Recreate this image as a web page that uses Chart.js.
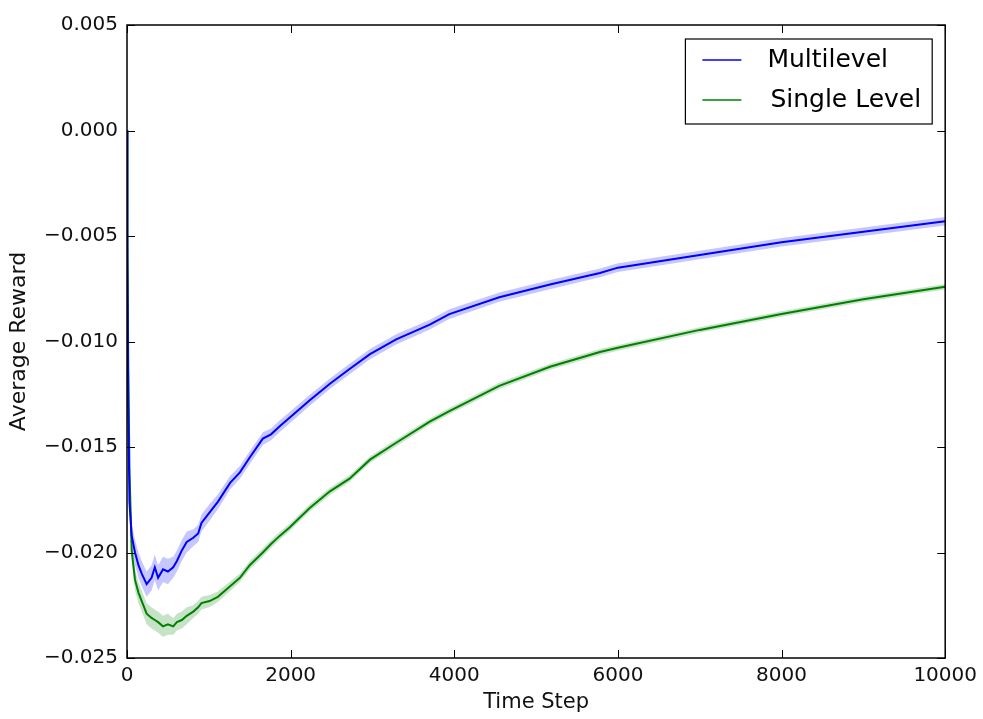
<!DOCTYPE html>
<html lang="en">
<head>
    <meta charset="UTF-8">
    <title>Average Reward vs Time Step</title>
    <script src="https://cdn.jsdelivr.net/npm/chart.js"></script>
    <style>
        html, body { margin: 0; padding: 0; background: #fff; }
        canvas { display: block; }
    </style>
</head>
<body>
    <canvas id="chart" width="983" height="719"></canvas>

    <script>
    // time steps (shared by both runs)
    const steps = [0, 5, 15, 30, 57, 98, 140, 180, 240, 300, 340, 380, 440, 500, 565, 610, 670, 730, 810, 870,
        910, 1010, 1110, 1260, 1380, 1500, 1660, 1760, 1870, 1990, 2230, 2480, 2720, 2970, 3290, 3700, 3940,
        4550, 5170, 5780, 6000, 7000, 8000, 9000, 10000];

    // mean average reward
    const multilevel = [0, -0.0060, -0.0130, -0.0176, -0.0192, -0.0200, -0.0206, -0.0210, -0.0215, -0.0212,
        -0.0207, -0.0212, -0.0208, -0.0209, -0.0207, -0.0204, -0.0199, -0.0195, -0.0193, -0.0191,
        -0.0186, -0.0181, -0.0176, -0.0167, -0.0162, -0.0155, -0.0146, -0.0144, -0.0140, -0.0136,
        -0.0128, -0.0120, -0.0113, -0.0106, -0.0099, -0.0092, -0.0087, -0.0079, -0.0073, -0.00675,
        -0.0065, -0.0059, -0.0053, -0.0048, -0.0043];
    const singleLevel = [0, -0.0050, -0.0110, -0.0160, -0.0199, -0.0213, -0.0219, -0.0223, -0.0229, -0.0231,
        -0.0232, -0.0233, -0.0235, -0.0234, -0.0235, -0.0233, -0.0232, -0.0230, -0.0228, -0.0226,
        -0.0224, -0.0223, -0.0221, -0.0216, -0.0212, -0.0206, -0.0200, -0.0196, -0.0192, -0.0188,
        -0.0179, -0.0171, -0.0165, -0.0156, -0.0148, -0.0138, -0.0133, -0.0121, -0.0112, -0.0105,
        -0.0103, -0.00945, -0.0087, -0.0080, -0.0074];

    // half width of the shaded spread
    const multilevelErr = [0, 0.0004, 0.0005, 0.0006, 0.0006, 0.0006, 0.0006, 0.0006, 0.0006, 0.0006,
        0.0006, 0.0006, 0.0006, 0.0006, 0.0005, 0.0005, 0.0005, 0.0005, 0.0004, 0.0004,
        0.0004, 0.0004, 0.00035, 0.00032, 0.0003, 0.0003, 0.0003, 0.00028, 0.00028, 0.00027,
        0.00026, 0.00025, 0.00025, 0.00024, 0.00024, 0.00023, 0.00023, 0.00022, 0.00022, 0.00021,
        0.00021, 0.0002, 0.0002, 0.0002, 0.0002];
    const singleErr = [0, 0.0003, 0.0004, 0.0005, 0.0005, 0.0005, 0.0005, 0.0005, 0.0005, 0.0005,
        0.0005, 0.0005, 0.0005, 0.0005, 0.0004, 0.0004, 0.0004, 0.0004, 0.0003, 0.0003,
        0.0003, 0.00028, 0.00025, 0.00022, 0.0002, 0.0002, 0.0002, 0.00019, 0.00018, 0.00018,
        0.00017, 0.00017, 0.00016, 0.00016, 0.00016, 0.00015, 0.00015, 0.00015, 0.00014, 0.00014,
        0.00014, 0.00013, 0.00013, 0.00013, 0.00013];

    const xTicks = [0, 2000, 4000, 6000, 8000, 10000];
    const yTicks = [-0.025, -0.020, -0.015, -0.010, -0.005, 0.000, 0.005];

    const FONT = "'DejaVu Sans', sans-serif";

    const pts = ys => steps.map((s, i) => ({ x: s, y: ys[i] }));
    const band = (ys, err, sign) => steps.map((s, i) => ({ x: s, y: ys[i] + sign * err[i] }));

    // matplotlib-style frame, inward ticks on all four sides, and a boxed legend
    const framePlugin = {
        id: 'frame',
        afterDatasetsDraw(chart) {
            const { ctx, chartArea: a, scales: { x, y } } = chart;
            ctx.save();
            ctx.strokeStyle = '#000';
            ctx.lineWidth = 1;
            const tl = 8;
            xTicks.forEach(v => {
                const px = Math.round(x.getPixelForValue(v)) + 0.5;
                ctx.beginPath();
                ctx.moveTo(px, a.bottom); ctx.lineTo(px, a.bottom - tl);
                ctx.moveTo(px, a.top); ctx.lineTo(px, a.top + tl);
                ctx.stroke();
            });
            yTicks.forEach(v => {
                const py = Math.round(y.getPixelForValue(v)) + 0.5;
                ctx.beginPath();
                ctx.moveTo(a.left, py); ctx.lineTo(a.left + tl, py);
                ctx.moveTo(a.right, py); ctx.lineTo(a.right - tl, py);
                ctx.stroke();
            });
            ctx.lineWidth = 1.5;
            ctx.strokeRect(a.left, a.top, a.right - a.left, a.bottom - a.top);

            // legend
            const items = chart.data.datasets.slice(0, 2);
            ctx.font = '25px ' + FONT;
            const textW = Math.max(...items.map(d => ctx.measureText(d.label).width));
            const boxW = 17 + 39 + 26 + textW + 14;
            const boxH = 85;
            const bx = a.right - 13 - boxW;
            const by = a.top + 14;
            ctx.fillStyle = '#fff';
            ctx.fillRect(bx, by, boxW, boxH);
            ctx.lineWidth = 1.2;
            ctx.strokeStyle = '#000';
            ctx.strokeRect(bx, by, boxW, boxH);
            ctx.textBaseline = 'middle';
            ctx.textAlign = 'left';
            items.forEach((d, i) => {
                const cy = by + 21 + i * 40;
                ctx.strokeStyle = d.borderColor;
                ctx.lineWidth = 1.5;
                ctx.beginPath();
                ctx.moveTo(bx + 17, cy); ctx.lineTo(bx + 56, cy);
                ctx.stroke();
                ctx.fillStyle = '#000';
                ctx.fillText(d.label, bx + 82 + i * 3, cy);
            });
            ctx.restore();
        }
    };

    const fmtY = v => {
        if (Math.abs(v) < 1e-9) return '0.000';
        const s = Math.abs(v).toFixed(3);
        return v < 0 ? '\u2212' + s : s;
    };

    new Chart(document.getElementById('chart'), {
        type: 'line',
        data: {
            datasets: [
                { label: 'Multilevel', data: pts(multilevel), borderColor: '#0000ff', borderWidth: 2, pointRadius: 0, fill: false },
                { label: 'Single Level', data: pts(singleLevel), borderColor: '#008000', borderWidth: 2, pointRadius: 0, fill: false },
                { label: 'ml upper', data: band(multilevel, multilevelErr, 1), borderWidth: 0, pointRadius: 0, fill: false },
                { label: 'ml lower', data: band(multilevel, multilevelErr, -1), borderWidth: 0, pointRadius: 0, fill: '-1', backgroundColor: 'rgba(0,0,255,0.22)' },
                { label: 'sl upper', data: band(singleLevel, singleErr, 1), borderWidth: 0, pointRadius: 0, fill: false },
                { label: 'sl lower', data: band(singleLevel, singleErr, -1), borderWidth: 0, pointRadius: 0, fill: '-1', backgroundColor: 'rgba(0,128,0,0.22)' }
            ]
        },
        options: {
            responsive: false,
            animation: false,
            layout: { padding: { left: 0, right: 37, top: 25, bottom: 0 } },
            plugins: { legend: { display: false }, tooltip: { enabled: false } },
            scales: {
                x: {
                    type: 'linear', min: 0, max: 10000,
                    grid: { display: false, drawTicks: false },
                    border: { display: false },
                    afterBuildTicks: s => { s.ticks = xTicks.map(v => ({ value: v })); },
                    afterFit: s => { s.height = 61; },
                    ticks: { padding: 6, color: '#111', font: { family: FONT, size: 20 }, maxRotation: 0, callback: v => String(v) },
                    title: { display: true, text: 'Time Step', color: '#111', font: { family: FONT, size: 21 }, padding: { top: 0, bottom: 4 } }
                },
                y: {
                    type: 'linear', min: -0.025, max: 0.005,
                    grid: { display: false, drawTicks: false },
                    border: { display: false },
                    afterBuildTicks: s => { s.ticks = yTicks.map(v => ({ value: v })); },
                    afterFit: s => { s.width = 127; },
                    ticks: { padding: 9, color: '#111', font: { family: FONT, size: 20 }, callback: fmtY },
                    title: { display: true, text: 'Average Reward', color: '#111', font: { family: FONT, size: 22 }, padding: { top: 6, bottom: 0 } }
                }
            }
        },
        plugins: [framePlugin]
    });
    </script>
</body>
</html>
